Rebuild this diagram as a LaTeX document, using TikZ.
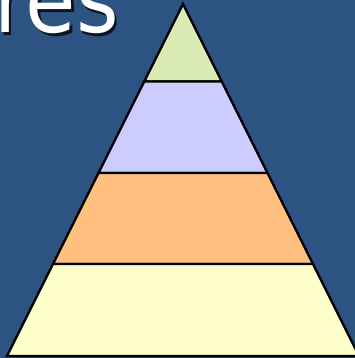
\documentclass[tikz,border=0pt]{standalone}
\usepackage{fontspec}
\newfontfamily\titlefont{DejaVu Sans Condensed}
\definecolor{slideblue}{HTML}{2C5381}
\definecolor{tiergreen}{HTML}{DAEBB6}
\definecolor{tierlilac}{HTML}{CCCCFF}
\definecolor{tierorange}{HTML}{FFBF7F}
\definecolor{tieryellow}{HTML}{FFFFCC}
\usetikzlibrary{positioning}

\begin{document}
\begin{tikzpicture}[x=1pt,y=-1pt,
  tier/.style={draw=black,line width=2.4pt,line join=miter},
  title/.style={font=\titlefont\fontsize{91}{91}\selectfont,inner sep=0pt,anchor=base west}]
  \useasboundingbox (0,0) rectangle (355,358);
  \clip (0,0) rectangle (355,358);
  \fill[slideblue] (0,0) rectangle (355,358);
  % cut-off slide title
  \node[title,text=black,opacity=.75] (titleshadow) at (-3.5,35.5) {res};
  \node[title,text=white] (title) at (-6,33) {res};
  % pyramid, apex at (183,4), sides of slope 1/2
  \foreach \t/\b/\c in {4/81.5/tiergreen,81.5/173/tierlilac,173/264/tierorange,264/356/tieryellow}
    \filldraw[tier,fill=\c] ({183-0.5*(\t-4)},\t) -- ({183+0.5*(\t-4)},\t)
      -- ({183+0.5*(\b-4)},\b) -- ({183-0.5*(\b-4)},\b) -- cycle;
\end{tikzpicture}
\end{document}
